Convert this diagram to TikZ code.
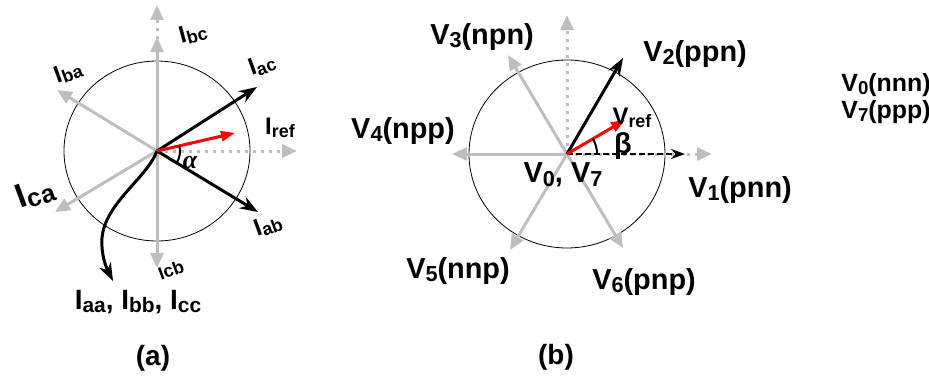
\documentclass[tikz,border=0pt]{standalone}
\usepackage{fontspec}
\setmainfont{Liberation Sans}
\newfontfamily\greekserif{Liberation Serif}
\usetikzlibrary{arrows.meta}
\usetikzlibrary{angles}
\definecolor{vgray}{RGB}{190,190,190}
\definecolor{vred}{RGB}{255,0,0}
\newcommand{\subt}[1]{\raisebox{-0.12em}{\scalebox{0.75}{#1}}}

\tikzset{
  gvec/.style={draw=vgray, line width=3bp, -{Triangle[length=15bp,width=13bp]}},
  gdot/.style={gvec, dash pattern=on 3bp off 5bp},
  bvec/.style={draw=black, line width=3bp, -{Stealth[length=18bp,width=13bp]}},
  rvec/.style={draw=vred, line width=3bp, -{Triangle[length=14bp,width=10bp]}},
  ilbl/.style={font=\fontsize{24}{26}\selectfont\bfseries, inner sep=0pt},
  vlbl/.style={font=\fontsize{29}{31}\selectfont\bfseries, inner sep=0pt},
}

\begin{document}
\begin{tikzpicture}[x=1bp,y=1bp]
\useasboundingbox (0,0) rectangle (929,383);

% (a) current vectors
\begin{scope}
\coordinate (Oa) at (157,232);
\coordinate (bc) at (157,346);
\coordinate (bcd) at (157,378);
\coordinate (cb) at (157,115);
\coordinate (ra) at (297,232);
\coordinate (ba) at (57,293);
\coordinate (ca) at (55,171);
\coordinate (ac) at (257,296);
\coordinate (ab) at (258,171);
\coordinate (ref) at (235,250);
\coordinate (aa) at (113,102);

\draw[line width=0.8bp] (Oa) ellipse [x radius=93, y radius=90];

\draw[gdot] (Oa)--(bcd);
\draw[gdot] (Oa)--(ra);
\draw[gvec, {Triangle[length=15bp,width=13bp]}-{Triangle[length=15bp,width=13bp]}] (cb)--(bc);
\draw[gvec] (Oa)--(ba);
\draw[gvec] (Oa)--(ca);

\draw[bvec] (Oa)--(ac);
\draw[bvec] (Oa)--(ab);
\draw[bvec] (Oa) .. controls (147,205) and (105,180) .. (102,145)
   .. controls (101,128) and (106,116) .. (aa);
\draw[rvec] (Oa)--(ref);

\pic [draw, line width=2bp, angle radius=23bp] {angle = ab--Oa--ref};

\node[ilbl, rotate=15] (tbc) at (193,350) {I\subt{bc}};
\node[ilbl, rotate=20] (tac) at (262,318) {I\subt{ac}};
\node[ilbl, rotate=20] (tba) at (68,311) {I\subt{ba}};
\node[ilbl] (tref) at (280,255) {I\subt{ref}};
\node[ilbl, font=\fontsize{34}{36}\selectfont\bfseries, rotate=20] (tca) at (35,190) {I\subt{ca}};
\node[ilbl, rotate=20] (tab) at (268,158) {I\subt{ab}};
\node[ilbl, font=\fontsize{18}{20}\selectfont\bfseries, rotate=20] (tcb) at (171,113) {Icb};
\node[ilbl, font=\fontsize{28}{30}\selectfont\bfseries] (taa) at (138,81) {I\subt{aa}, I\subt{bb}, I\subt{cc}};
\node[ilbl, font=\fontsize{26}{28}\selectfont\greekserif\bfseries\itshape] (alph) at (190,220) {α};
\node[ilbl, font=\fontsize{28}{30}\selectfont\bfseries] (capa) at (153,25) {(a)};
\end{scope}

% (b) voltage vectors
\begin{scope}
\coordinate (Ob) at (567,229);
\coordinate (v4) at (452,229);
\coordinate (v3) at (508,328);
\coordinate (v5) at (510,133);
\coordinate (v6) at (623,135);
\coordinate (v2) at (623,325);
\coordinate (up) at (567,368);
\coordinate (rb) at (712,229);
\coordinate (v1) at (685,229);
\coordinate (vref) at (625,263);

\draw[line width=0.8bp] (Ob) ellipse [x radius=98, y radius=94];

\draw[gdot] (Ob)--(up);
\draw[gdot] (Ob)--(rb);
\draw[gvec] (Ob)--(v4);
\draw[gvec, {Triangle[length=15bp,width=13bp]}-{Triangle[length=15bp,width=13bp]}] (v6)--(v3);
\draw[gvec] (Ob)--(v5);

\draw[bvec] (Ob)--(v2);
\draw[bvec, line width=2.5bp, dash pattern=on 6bp off 3bp,
  -{Stealth[length=14bp,width=10bp]}] (Ob)--(v1);
\draw[rvec] (Ob)--(vref);

\pic [draw, line width=2bp, angle radius=30bp] {angle = v1--Ob--vref};

\node[vlbl] (t3) at (482,346) {V\subt{3}(npn)};
\node[vlbl] (t2) at (695,329) {V\subt{2}(ppn)};
\node[vlbl, font=\fontsize{24}{26}\selectfont\bfseries] (tvref) at (632,265) {V\subt{ref}};
\node[vlbl] (t4) at (403,252) {V\subt{4}(npp)};
\node[vlbl] (t07) at (563,208) {V\subt{0}, V\subt{7}};
\node[vlbl] (t1) at (740,193) {V\subt{1}(pnn)};
\node[vlbl] (t5) at (458,112) {V\subt{5}(nnp)};
\node[vlbl] (t6) at (644,101) {V\subt{6}(pnp)};
\node[vlbl] (bet) at (623,237) {β};
\node[vlbl, font=\fontsize{28}{30}\selectfont\bfseries] (capb) at (556,26) {(b)};
\node[vlbl, font=\fontsize{25}{27}\selectfont\bfseries] (t0) at (886,298) {V\subt{0}(nnn)};
\node[vlbl, font=\fontsize{25}{27}\selectfont\bfseries] (t7) at (886,271) {V\subt{7}(ppp)};
\end{scope}

\end{tikzpicture}
\end{document}
